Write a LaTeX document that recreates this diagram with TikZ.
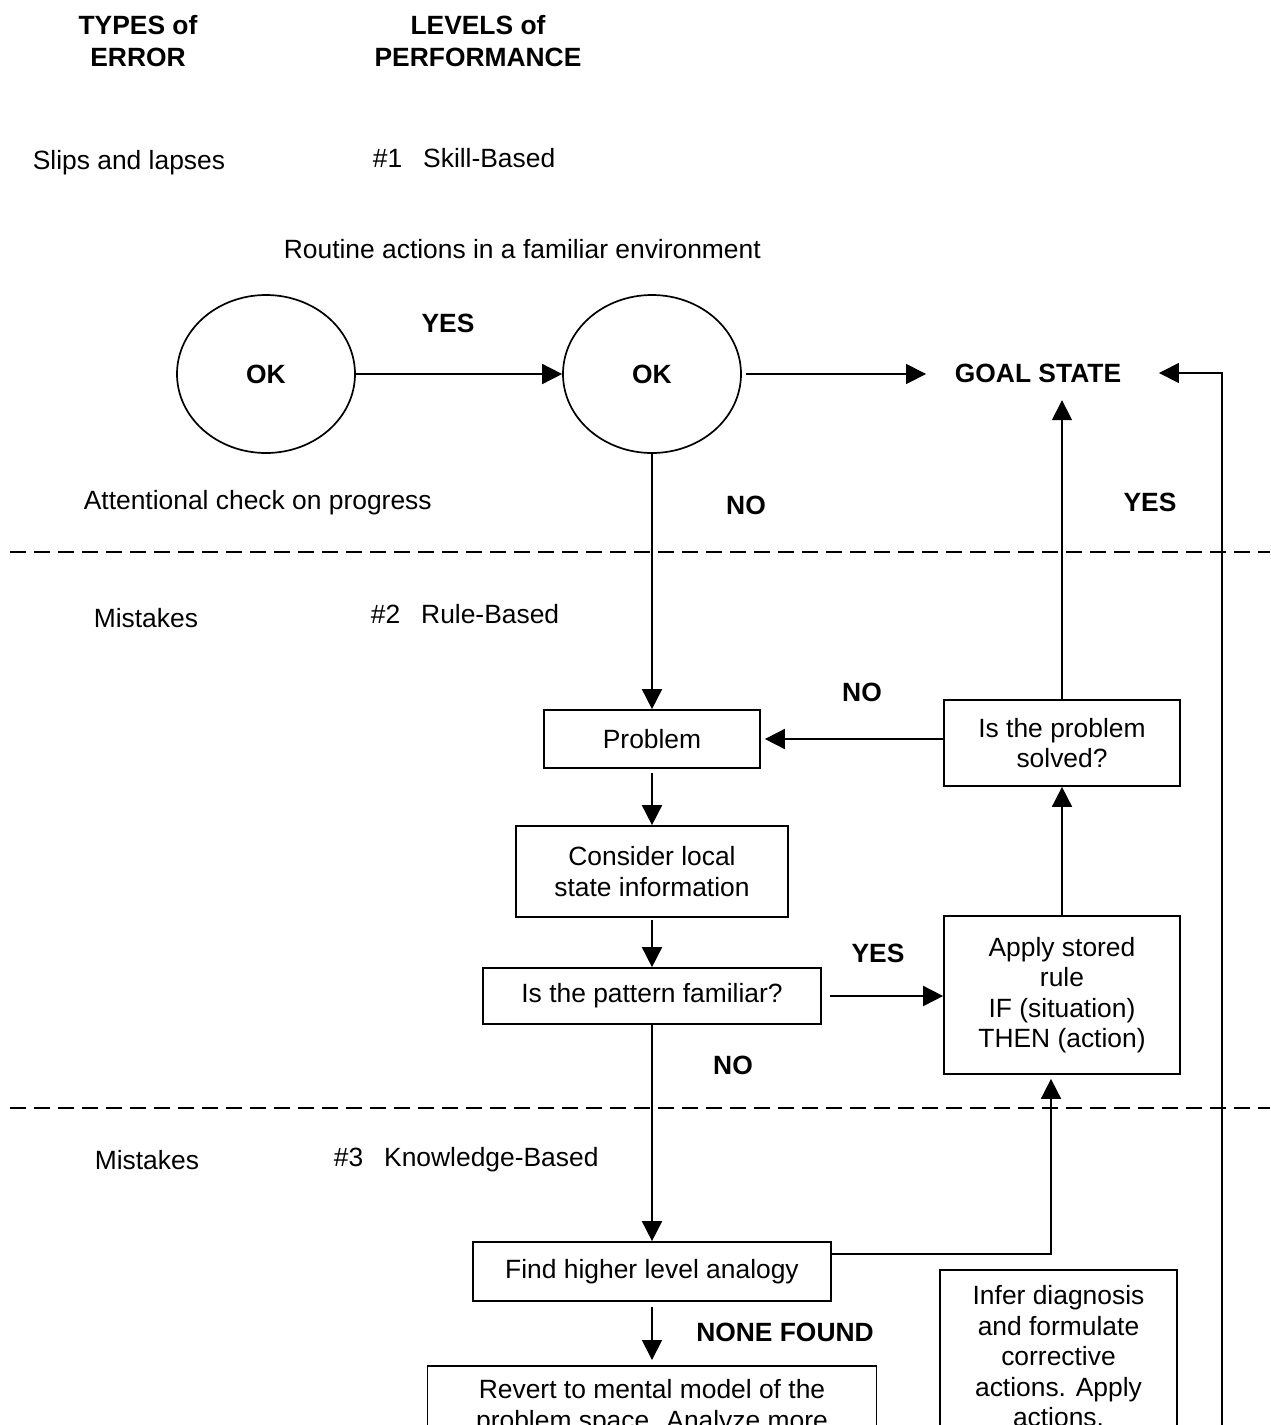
\documentclass[tikz,border=0pt]{standalone}
\usepackage{fontspec}
\setmainfont{Liberation Sans}
\usetikzlibrary{arrows.meta,shapes.geometric}
\begin{document}
\begin{tikzpicture}[x=1pt,y=-1pt,
  line width=1.7pt,
  every node/.style={font=\fontsize{26.4}{30.5}\selectfont},
  lbl/.style={inner sep=0pt},
  blbl/.style={inner sep=0pt,font=\fontsize{26.4}{32}\selectfont\bfseries},
  box/.style={draw,line width=1.7pt,align=center,inner sep=0pt},
  okc/.style={draw,ellipse,minimum width=178pt,minimum height=158pt,inner sep=0pt,font=\fontsize{26.4}{30.5}\selectfont\bfseries},
  arr/.style={-{Triangle[length=20pt,width=20pt]}},
  sepline/.style={dash pattern=on 16pt off 8pt}
]
\useasboundingbox (0,0) rectangle (1270,1425);
\clip (0,0) rectangle (1270,1425);

% headers
\node[blbl,align=center] (types) at (138,41) {TYPES of\\ERROR};
\node[blbl,align=center] (levels) at (478,41) {LEVELS of\\PERFORMANCE};

% plain labels
\node[lbl,anchor=base west] (slips) at (32,169.5) {Slips and lapses};
\node[lbl,anchor=base west] (lvl1) at (372,167.5) {\#1\hspace{21pt}Skill-Based};
\node[lbl,anchor=base west] (routine) at (283,258.5) {Routine actions in a familiar environment};
\node[lbl,anchor=base west] (attn) at (83,509.5) {Attentional check on progress};
\node[lbl,anchor=base west] (mis1) at (93,627.5) {Mistakes};
\node[lbl,anchor=base west] (lvl2) at (370,623.5) {\#2\hspace{21pt}Rule-Based};
\node[lbl,anchor=base west] (mis2) at (94,1169.5) {Mistakes};
\node[lbl,anchor=base west] (lvl3) at (333,1166.5) {\#3\hspace{21pt}Knowledge-Based};

% separators
\draw[sepline] (10,552) -- (1270,552);
\draw[sepline] (10,1108) -- (1270,1108);

% circles and goal
\node[okc] (ok1) at (266,374) {OK};
\node[okc] (ok2) at (652,374) {OK};
\node[blbl] (goal) at (1038,373) {GOAL STATE};

% boxes
\node[box,minimum width=216pt,minimum height=58pt] (problem) at (652,739) {Problem};
\node[box,minimum width=236pt,minimum height=86pt] (solved) at (1062,743) {Is the problem\\solved?};
\node[box,minimum width=272pt,minimum height=91pt] (consider) at (652,871.5) {Consider local\\state information};
\node[box,minimum width=338pt,minimum height=56pt] (pattern) at (652,996) {Is the pattern familiar?};
\node[box,minimum width=236pt,minimum height=158pt] (apply) at (1062,995) {Apply stored\\rule\\IF (situation)\\THEN (action)};
\node[box,minimum width=358pt,minimum height=59pt] (find) at (652,1271.5) {Find higher level analogy};
\node[box,minimum width=449pt,anchor=north,inner ysep=14pt] (revert) at (652,1365) {Revert to mental model of the\\problem space. Analyze more};
\node[box,minimum width=237pt,anchor=north,inner ysep=16pt] (infer) at (1058.5,1269) {Infer diagnosis\\and formulate\\corrective\\actions. Apply\\actions.};

% bold labels
\node[blbl] (yes1) at (448,323) {YES};
\node[blbl] (no1) at (746,505) {NO};
\node[blbl] (yes2) at (1150,502) {YES};
\node[blbl] (no2) at (862,692) {NO};
\node[blbl] (yes3) at (878,953) {YES};
\node[blbl] (no3) at (733,1065) {NO};
\node[blbl] (nf) at (785,1332) {NONE FOUND};

% connectors
\draw[arr] (ok1.east) -- (ok2.west);
\draw[arr,shorten <=4pt,shorten >=28pt] (ok2.east) -- (ok2.east -| goal.west);
\coordinate (retb) at (1222,1440);
\draw[arr,shorten >=37pt] (retb) |- (goal.east);
\draw[arr] (ok2.south) -- (problem.north);
\draw[arr,shorten >=17pt] (solved.north) -- (solved.north |- goal.south);
\draw[arr,shorten >=4pt] (problem.east -| solved.west) -- (problem.east);
\draw[arr,shorten <=4pt] (problem.south) -- (consider.north);
\draw[arr,shorten <=2pt] (consider.south) -- (pattern.north);
\draw[arr,shorten <=8pt] (pattern.east) -- (pattern.east -| apply.west);
\draw[arr] (apply.north) -- (solved.south);
\draw[arr] (pattern.south) -- (find.north);
\coordinate (fa) at (1051,1254);
\draw[arr,shorten >=4pt] (find.east |- fa) -- (fa) -- (fa |- apply.south);
\draw[arr,shorten <=5pt,shorten >=5pt] (find.south) -- (revert.north);
\end{tikzpicture}
\end{document}
